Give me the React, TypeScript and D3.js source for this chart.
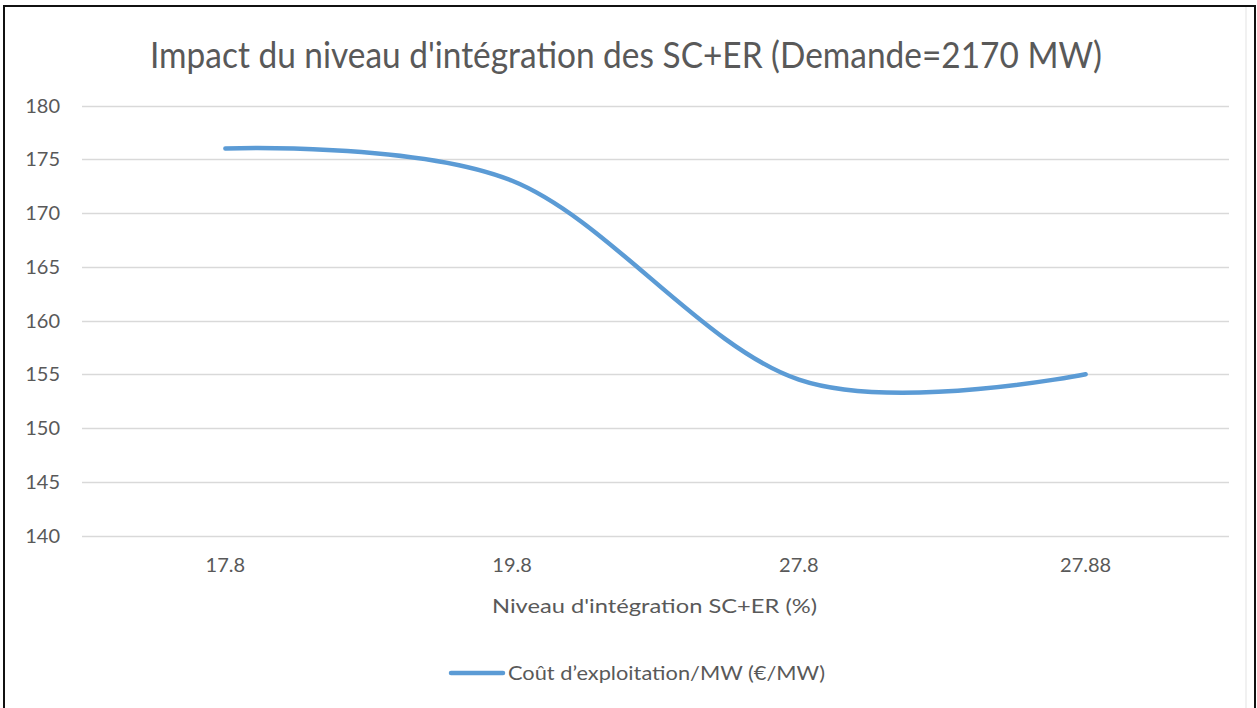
import { useEffect, useRef } from "react";
import * as d3 from "d3";

const CATEGORIES = ["17.8", "19.8", "27.8", "27.88"];
const COST = [176, 173, 154.5, 155];
const Y_TICKS = [140, 145, 150, 155, 160, 165, 170, 175, 180];

const TITLE = "Impact du niveau d'intégration des SC+ER (Demande=2170 MW)";
const X_TITLE = "Niveau d'intégration SC+ER (%)";
const SERIES_NAME = "Coût d’exploitation/MW (€/MW)";

const W = 1257;
const H = 708;
const LINE_COLOR = "#5B9BD5";
const TEXT_COLOR = "#595959";
const FONT = "Lato, 'Open Sans', sans-serif";

export default function App() {
  const svgRef = useRef<SVGSVGElement>(null);

  useEffect(() => {
    if (!svgRef.current) return;
    const svg = d3.select(svgRef.current);
    svg.selectAll("*").remove();

    const left = 82;
    const right = 1229;
    const top = 105.5;
    const bottom = 535.5;

    const x = d3.scalePoint<string>().domain(CATEGORIES).range([left, right]).padding(0.5);
    const y = d3.scaleLinear().domain([140, 180]).range([bottom, top]);

    svg.append("rect").attr("width", W).attr("height", H).attr("fill", "#fff");

    // frame
    svg.append("line")
      .attr("x1", 1246).attr("y1", 7).attr("x2", 1246).attr("y2", H)
      .attr("stroke", "#e3e3e3").attr("stroke-width", 1);
    svg.append("path")
      .attr("d", `M4,${H}V6H1255V${H}`)
      .attr("fill", "none")
      .attr("stroke", "#111")
      .attr("stroke-width", 2);

    // title
    svg.append("text")
      .attr("x", 150).attr("y", 68)
      .attr("textLength", 952)
      .attr("lengthAdjust", "spacingAndGlyphs")
      .attr("fill", TEXT_COLOR)
      .attr("font-family", FONT)
      .attr("font-weight", 400)
      .attr("font-size", 37)
      .text(TITLE);

    // gridlines + y labels
    Y_TICKS.forEach(t => {
      svg.append("line")
        .attr("x1", left).attr("x2", right)
        .attr("y1", Math.round(y(t)) + 0.5).attr("y2", Math.round(y(t)) + 0.5)
        .attr("stroke", "#d9d9d9").attr("stroke-width", 1.5);
      svg.append("text")
        .attr("x", 60).attr("y", y(t) + 7)
        .attr("text-anchor", "end")
        .attr("fill", TEXT_COLOR)
        .attr("font-family", FONT)
        .attr("font-size", 20)
        .text(t);
    });

    // x labels
    CATEGORIES.forEach(c => {
      svg.append("text")
        .attr("x", x(c)!).attr("y", 572)
        .attr("text-anchor", "middle")
        .attr("fill", TEXT_COLOR)
        .attr("font-family", FONT)
        .attr("font-size", 20)
        .text(c);
    });

    // x axis title
    svg.append("text")
      .attr("x", 492).attr("y", 613)
      .attr("textLength", 325)
      .attr("lengthAdjust", "spacingAndGlyphs")
      .attr("fill", TEXT_COLOR)
      .attr("font-family", FONT)
      .attr("font-size", 20)
      .text(X_TITLE);

    // series
    const points = CATEGORIES.map((c, i) => [x(c)!, y(COST[i])] as [number, number]);
    const line = d3.line<[number, number]>()
      .x(d => d[0]).y(d => d[1])
      .curve(d3.curveCardinal.tension(0));
    svg.append("path")
      .datum(points)
      .attr("d", line)
      .attr("fill", "none")
      .attr("stroke", LINE_COLOR)
      .attr("stroke-width", 4.5)
      .attr("stroke-linecap", "round");

    // legend
    svg.append("line")
      .attr("x1", 451).attr("x2", 503).attr("y1", 673).attr("y2", 673)
      .attr("stroke", LINE_COLOR).attr("stroke-width", 4.5)
      .attr("stroke-linecap", "round");
    svg.append("text")
      .attr("x", 508).attr("y", 680)
      .attr("textLength", 317)
      .attr("lengthAdjust", "spacingAndGlyphs")
      .attr("fill", TEXT_COLOR)
      .attr("font-family", FONT)
      .attr("font-size", 20)
      .text(SERIES_NAME);
  }, []);

  return (
    <svg
      ref={svgRef}
      width={W}
      height={H}
      style={{ position: "absolute", left: 0, top: 0, display: "block" }}
    />
  );
}
